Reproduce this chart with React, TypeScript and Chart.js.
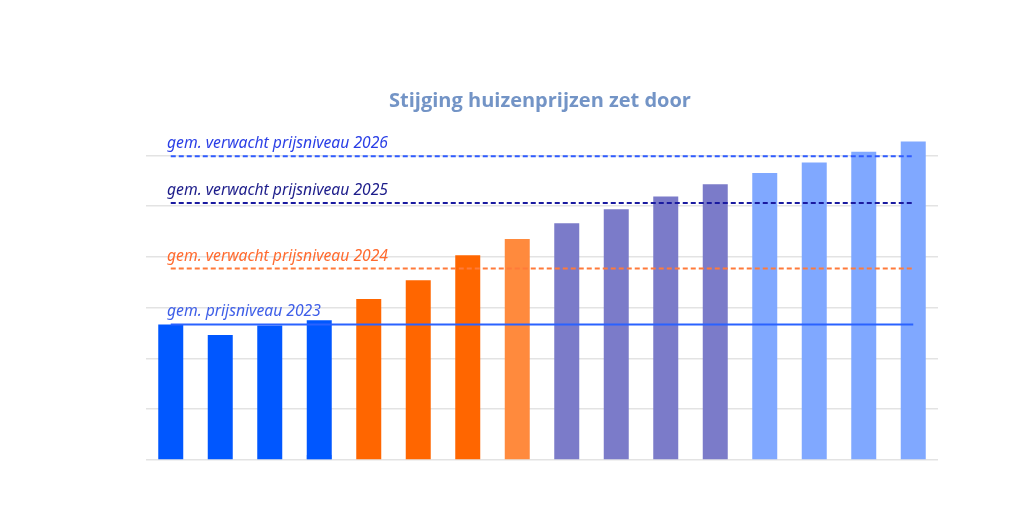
import React, { useEffect, useRef } from "react";
import { Chart, registerables } from "chart.js";

Chart.register(...registerables);

const categories = ["1", "2", "3", "4", "5", "6", "7", "8", "9", "10", "11", "12", "13", "14", "15", "16"];
const barValues = [2.67, 2.46, 2.65, 2.75, 3.17, 3.54, 4.03, 4.35, 4.66, 4.94, 5.19, 5.43, 5.65, 5.86, 6.07, 6.27];
const capValues = [0, 0, 0, 0.1, 0, 0, 0, 0, 0, 0, 0, 0, 0, 0, 0, 0];
const barColors = [
  "#0057ff", "#0057ff", "#0057ff", "#0057ff",
  "#ff6600", "#ff6600", "#ff6600", "#ff8a3d",
  "#7b7bc9", "#7b7bc9", "#7b7bc9", "#7b7bc9",
  "#80a8ff", "#80a8ff", "#80a8ff", "#80a8ff",
];
const level2023 = 2.67;
const level2024 = 3.77;
const level2025 = 5.06;
const level2026 = 5.98;
const levelLabels = [
  { text: "gem. verwacht prijsniveau 2026", value: level2026, color: "#2a3fe6" },
  { text: "gem. verwacht prijsniveau 2025", value: level2025, color: "#1c1c8a" },
  { text: "gem. verwacht prijsniveau 2024", value: level2024, color: "#ff6a2e" },
  { text: "gem. prijsniveau 2023", value: level2023, color: "#3f5fe8" },
];
const titleText = "Stijging huizenprijzen zet door";

export default function App() {
  const ref = useRef<HTMLCanvasElement>(null);
  useEffect(() => {
    if (!ref.current) return;
    const flat = (v: number) => categories.map(() => v);
    const labelPlugin = {
      id: "levelLabels",
      afterDraw(chart: any) {
        const ctx = chart.ctx;
        const y = chart.scales.y;
        ctx.save();
        ctx.font = "bold 20px 'Open Sans'";
        ctx.fillStyle = "#7394c6";
        ctx.textAlign = "center";
        ctx.textBaseline = "middle";
        ctx.fillText(titleText, 540, 101);
        ctx.font = "italic 15.7px 'Noto Sans'";
        ctx.textAlign = "left";
        ctx.textBaseline = "alphabetic";
        for (const l of levelLabels) {
          ctx.fillStyle = l.color;
          ctx.fillText(l.text, 167, y.getPixelForValue(l.value) - 8);
        }
        ctx.restore();
      },
    };
    const lineDs = (label: string, v: number, color: string, dash: number[]) => ({
      type: "line" as const,
      label,
      data: flat(v),
      borderColor: color,
      borderWidth: 2,
      borderDash: dash,
      pointRadius: 0,
      fill: false,
      stack: label,
      order: 0,
    });
    const chart = new Chart(ref.current, {
      type: "bar",
      data: {
        labels: categories,
        datasets: [
          {
            label: "prijs",
            data: barValues,
            backgroundColor: barColors,
            stack: "s",
            order: 2,
            barPercentage: 0.505,
            categoryPercentage: 1,
          },
          {
            label: "cap",
            data: capValues,
            backgroundColor: "#6f9bff",
            stack: "s",
            order: 2,
            barPercentage: 0.505,
            categoryPercentage: 1,
          },
          lineDs("2026", level2026, "#2f5bff", [5, 3]),
          lineDs("2025", level2025, "#1a1aa0", [5, 3]),
          lineDs("2024", level2024, "#ff7a3a", [5, 3]),
          lineDs("2023", level2023, "#2a62ff", []),
        ] as any,
      },
      options: {
        animation: false,
        responsive: true,
        maintainAspectRatio: false,
        layout: { padding: { left: 146, right: 86, top: 135, bottom: 52 } },
        plugins: { legend: { display: false }, tooltip: { enabled: false }, title: { display: false } },
        scales: {
          x: {
            stacked: true,
            display: false,
            grid: { display: false },
          },
          y: {
            stacked: false,
            min: 0,
            max: 6.4,
            grid: { color: "#e3e3e3", lineWidth: 1.5, drawTicks: false },
            border: { display: false },
            ticks: { display: false, stepSize: 1 },
            afterBuildTicks: (scale: any) => {
              scale.ticks = scale.ticks.filter((t: any) => Number.isInteger(t.value));
            },
          },
        },
      },
      plugins: [labelPlugin],
    });
    return () => chart.destroy();
  }, []);
  return (
    <div style={{ position: "fixed", left: 0, top: 0, width: 1024, height: 512, background: "#fff" }}>
      <canvas ref={ref} />
    </div>
  );
}
